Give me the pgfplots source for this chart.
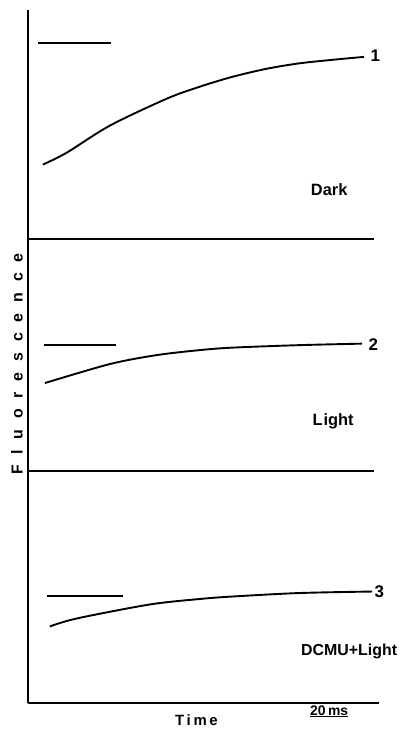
\documentclass[border=0pt]{standalone}
\usepackage{fontspec}
\setmainfont{Liberation Sans}
\usepackage{pgfplots}
\pgfplotsset{compat=1.18}
\begin{document}
\begin{tikzpicture}
\begin{axis}[
  x=1bp, y=1bp,
  xmin=28, xmax=378, ymin=24, ymax=719,
  axis x line=bottom, axis y line=left,
  x axis line style={-, line width=2.2bp},
  y axis line style={-, line width=2.2bp},
  ticks=none,
  clip=false,
  cycle list={{black, solid, mark=none}},
  every axis plot/.append style={line width=1.9bp, black, solid, mark=none},
]
% invisible frame that fixes the picture's size
\path (axis cs:0,0) rectangle (axis cs:401,729);
% panel separators
\addplot[black, line width=2.2bp] coordinates {(28,489) (375,489)};
\addplot[black, line width=2.2bp] coordinates {(28,257) (375,257)};
\addplot[black, line width=2.2bp] coordinates {(28,24) (380,24)};
% flash markers
\addplot[black, line width=2.1bp] coordinates {(38,686) (111,686)};
\addplot[black, line width=2.1bp] coordinates {(44,383.5) (116,383.5)};
\addplot[black, line width=2.1bp] coordinates {(47,131.5) (123,131.5)};
% curve 1 (Dark)
\addplot[black, smooth] coordinates {(43,564) (67,576) (110,603) (167,630) (200,642) (233,652) (267,660) (300,665.5) (333,669) (365,672)};
% curve 2 (Light)
\addplot[black, smooth] coordinates {(45,345) (110,364) (157,373) (200,378) (233,380.5) (300,383) (363,384.5)};
% curve 3 (DCMU+Light)
\addplot[black, smooth] coordinates {(50,101) (77,109) (150,123) (200,128.5) (233,131) (300,134.5) (373,136)};
% labels
\node[anchor=west, font=\bfseries\fontsize{17}{19}\selectfont] at (axis cs:368,673) {1};
\node[anchor=west, font=\bfseries\fontsize{17}{19}\selectfont] at (axis cs:366,384) {2};
\node[anchor=west, font=\bfseries\fontsize{17}{19}\selectfont] at (axis cs:372,136) {3};
\node[font=\bfseries\fontsize{16.5}{19}\selectfont] at (axis cs:330,539) {Dark};
\node[font=\bfseries\fontsize{16.5}{19}\selectfont] at (axis cs:334,307) {L\kern1bp ight};
\node[font=\bfseries\fontsize{16}{19}\selectfont] at (axis cs:350,76) {DCMU+Light};
\node[rotate=90, font=\bfseries\fontsize{16}{18}\selectfont] at (axis cs:17,364)
  {\addfontfeatures{LetterSpace=68}Fluorescence};
\node[font=\bfseries\fontsize{15}{17}\selectfont] at (axis cs:197,7)
  {\addfontfeatures{LetterSpace=18}Time};
\node[font=\bfseries\fontsize{14}{16}\selectfont] at (axis cs:330,16)
  {\underline{20\,ms}};
\end{axis}
\end{tikzpicture}
\end{document}
